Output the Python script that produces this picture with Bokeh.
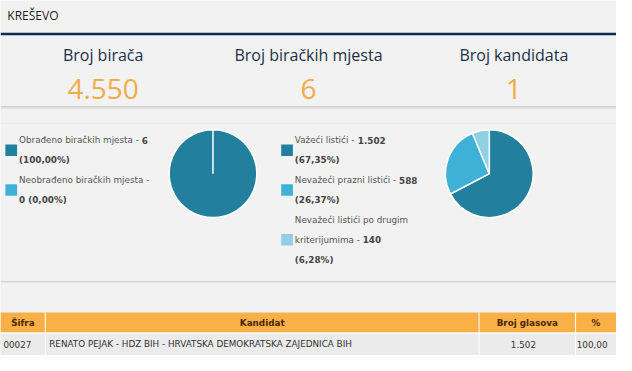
import math
from bokeh.plotting import figure
from bokeh.models import Range1d, ColumnDataSource
from bokeh.core.properties import value
from bokeh.embed import file_html
from bokeh.resources import INLINE

# ---------------- data ----------------
region_name = "KREŠEVO"
stat_labels = ["Broj birača", "Broj biračkih mjesta", "Broj kandidata"]
stat_values = ["4.550", "6", "1"]

stations_labels = ["Obrađeno biračkih mjesta", "Neobrađeno biračkih mjesta"]
stations_values = [6, 0]
stations_pct = ["100,00%", "0,00%"]

ballots_labels = ["Važeći listići", "Nevažeći prazni listići",
                  "Nevažeći listići po drugim kriterijumima"]
ballots_values = [1502, 588, 140]
ballots_pct = ["67,35%", "26,37%", "6,28%"]

table_columns = ["Šifra", "Kandidat", "Broj glasova", "%"]
candidate_code = ["00027"]
candidate_name = ["RENATO PEJAK - HDZ BIH - HRVATSKA DEMOKRATSKA ZAJEDNICA BIH"]
candidate_votes = [1502]
candidate_pct = ["100,00"]

# ---------------- style ----------------
SLICE_COLORS = ["#22809e", "#3fb1d7", "#8fd0e5"]
BG = "#f2f2f2"
NAVY = "#0e2c4f"
ORANGE_NUM = "#f2ab4b"
ORANGE_HDR = "#f9b047"
W, H = 616, 355
REF_W, REF_H = 632, 371
PX = REF_W / W          # reference px per screen px
LEG_FONT = 8.8           # screen px
LEG_FONT_S = f"{LEG_FONT}px"

NORM_W = {' ': 318, '-': 361, 'a': 613, 'b': 635, 'c': 550, 'd': 635, 'e': 615,
          'f': 352, 'g': 635, 'h': 634, 'i': 278, 'j': 278, 'k': 579, 'l': 278,
          'm': 974, 'n': 634, 'o': 612, 'p': 635, 'r': 411, 's': 521, 't': 392,
          'u': 634, 'v': 592, 'z': 525, 'N': 748, 'O': 787, 'V': 684,
          'č': 550, 'ć': 550, 'ž': 525, 'đ': 635, 'š': 521,
          '(': 390, ')': 390, ',': 318, '.': 318, '%': 950}
BOLD_W = {' ': 348, '-': 415, '.': 380, ',': 380, '(': 457, ')': 457, '%': 1002}
for d in "0123456789":
    NORM_W[d] = 636
    BOLD_W[d] = 696


def text_width(s, bold):
    t = BOLD_W if bold else NORM_W
    return sum(t.get(ch, 600 if not bold else 700) for ch in s) / 1000 * LEG_FONT * PX


def fmt_int(v):
    return f"{v:,}".replace(",", ".")


def wrap(tokens, limit):
    lines, cur, cur_w = [], [], 0.0
    for word, bold in tokens:
        w = text_width(word, bold)
        add = w if not cur else text_width(" ", False) + w
        if cur and cur_w + add > limit:
            lines.append(cur)
            cur, cur_w = [(word, bold)], w
        else:
            cur.append((word, bold))
            cur_w += add
    lines.append(cur)
    return lines


p = figure(width=W, height=H, x_range=Range1d(0, REF_W), y_range=Range1d(REF_H, 0),
           output_backend="svg", toolbar_location=None, min_border=0,
           background_fill_color=BG, border_fill_color=BG, outline_line_color=None)
p.axis.visible = False
p.grid.visible = False

# ---------------- header ----------------
p.text(x=[7], y=[16], text=[region_name], text_font=value("Open Sans"),
       text_font_size="12px", text_color="#1e1e1e", text_baseline="middle", text_align="left")
p.segment(x0=[0], x1=[REF_W], y0=[35], y1=[35], line_color=NAVY, line_width=2.5)

# ---------------- stats ----------------
cx = [(i + 0.5) * REF_W / len(stat_labels) for i in range(len(stat_labels))]
p.text(x=cx, y=[57] * len(cx), text=stat_labels, text_font=value("Open Sans"),
       text_font_size="16px", text_color="#1c3047", text_align="center", text_baseline="middle")
p.text(x=cx, y=[93] * len(cx), text=stat_values, text_font=value("Open Sans"),
       text_font_size="28px", text_color=ORANGE_NUM, text_align="center", text_baseline="middle")
p.segment(x0=[0], x1=[REF_W], y0=[111], y1=[111], line_color="#cdcdcd", line_width=1.5)
p.segment(x0=[0], x1=[REF_W], y0=[112.5], y1=[112.5], line_color="#e0e0e0", line_width=1.5)
p.segment(x0=[0], x1=[REF_W], y0=[128.5], y1=[128.5], line_color="#e8e8e8", line_width=1)
p.segment(x0=[0], x1=[REF_W], y0=[294], y1=[294], line_color="#d6d6d6", line_width=1.5)


# ---------------- pies + legends ----------------
def draw_pie(labels, values, pcts, pie_x, leg_x, limit):
    total = sum(values)
    cum = 0.0
    starts, ends, cols = [], [], []
    for i, v in enumerate(values):
        if v <= 0:
            continue
        a0 = math.pi / 2 - 2 * math.pi * cum / total
        cum += v
        a1 = math.pi / 2 - 2 * math.pi * cum / total
        if a0 - a1 >= 2 * math.pi - 1e-9:
            a1 = a0 - (2 * math.pi - 1e-4)
        starts.append(a0)
        ends.append(a1)
        cols.append(SLICE_COLORS[i])
    p.wedge(x=pie_x, y=181, radius=45, start_angle=starts, end_angle=ends,
            direction="clock", fill_color=cols, line_color="white", line_width=1.5)

    line_h = 20.8
    k = 0
    nx, ny, nt, bx, by, bt = [], [], [], [], [], []
    sq_l, sq_r, sq_t, sq_b, sq_c = [], [], [], [], []
    for i, lab in enumerate(labels):
        toks = [(w, False) for w in lab.split()] + [("-", False),
                (fmt_int(values[i]), True), ("(" + pcts[i] + ")", True)]
        lines = wrap(toks, limit)
        ys = []
        for ln in lines:
            y = 146 + line_h * k
            ys.append(y)
            x = leg_x
            run, run_bold, run_x = [], None, x
            for j, (word, bold) in enumerate(ln):
                if j > 0:
                    x += text_width(" ", False)
                if run and bold != run_bold:
                    (bx if run_bold else nx).append(run_x)
                    (by if run_bold else ny).append(y)
                    (bt if run_bold else nt).append(" ".join(run))
                    run = []
                if not run:
                    run_x, run_bold = x, bold
                run.append(word)
                x += text_width(word, bold)
            if run:
                (bx if run_bold else nx).append(run_x)
                (by if run_bold else ny).append(y)
                (bt if run_bold else nt).append(" ".join(run))
            k += 1
        yc = sum(ys) / len(ys)
        sq_l.append(leg_x - 14)
        sq_r.append(leg_x - 2)
        sq_t.append(yc - 6)
        sq_b.append(yc + 6)
        sq_c.append(SLICE_COLORS[i])
    p.quad(left=sq_l, right=sq_r, top=sq_t, bottom=sq_b, fill_color=sq_c, line_color=None)
    p.text(x=nx, y=ny, text=nt, text_font=value("DejaVu Sans"), text_font_size=LEG_FONT_S,
           text_color="#555555", text_baseline="middle", text_align="left")
    p.text(x=bx, y=by, text=bt, text_font=value("DejaVu Sans"), text_font_size=LEG_FONT_S,
           text_font_style="bold", text_color="#444444", text_baseline="middle", text_align="left")


draw_pie(stations_labels, stations_values, stations_pct, 218, 19, 138.5)
draw_pie(ballots_labels, ballots_values, ballots_pct, 501.5, 302, 128.5)

# ---------------- table ----------------
edges = [0, 46, 491, 590, REF_W]
n = len(table_columns)
lefts = edges[:-1]
rights = edges[1:]
p.quad(left=lefts, right=rights, top=[326] * n, bottom=[347] * n,
       fill_color=ORANGE_HDR, line_color=None)
p.quad(left=lefts, right=rights, top=[348] * n, bottom=[REF_H] * n,
       fill_color="#ebebeb", line_color=None)
p.segment(x0=edges[1:-1], x1=edges[1:-1], y0=[326] * (n - 1), y1=[REF_H] * (n - 1),
          line_color="white", line_width=1)
p.segment(x0=[0], x1=[REF_W], y0=[347.5], y1=[347.5], line_color="white", line_width=1)

centers = [(a + b) / 2 for a, b in zip(lefts, rights)]
p.text(x=centers, y=[337] * n, text=table_columns, text_font=value("DejaVu Sans"),
       text_font_size="8.8px", text_font_style="bold", text_color="#4a2604",
       text_align="center", text_baseline="middle")

row_src = ColumnDataSource(dict(code=candidate_code, name=candidate_name,
                                votes=[fmt_int(v) for v in candidate_votes], pct=candidate_pct,
                                y=[359.5] * len(candidate_code)))
p.text(x=3, y="y", text="code", source=row_src, text_font=value("DejaVu Sans"),
       text_font_size="8.8px", text_color="#333333", text_align="left", text_baseline="middle")
p.text(x=50, y="y", text="name", source=row_src, text_font=value("DejaVu Sans"),
       text_font_size="8.8px", text_color="#333333", text_align="left", text_baseline="middle")
p.text(x=centers[2] - 4, y="y", text="votes", source=row_src, text_font=value("DejaVu Sans"),
       text_font_size="8.8px", text_color="#333333", text_align="center", text_baseline="middle")
p.text(x=centers[3] - 4, y="y", text="pct", source=row_src, text_font=value("DejaVu Sans"),
       text_font_size="8.8px", text_color="#333333", text_align="center", text_baseline="middle")

open("out.html", "w").write(file_html(p, INLINE))
